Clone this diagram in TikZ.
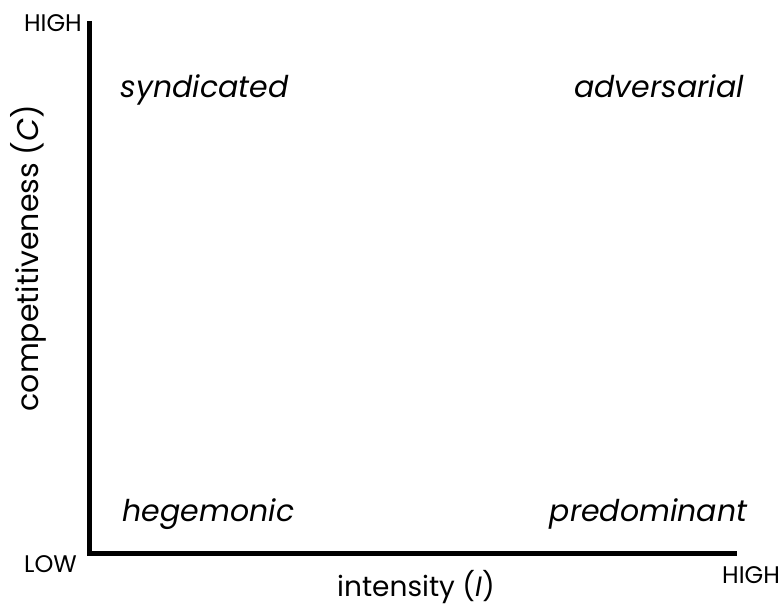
\documentclass[tikz,border=0pt]{standalone}
\usepackage{fontspec}
\setmainfont{Poppins}
\usepackage{tikz}
\tikzset{
    quadrant/.style={font=\fontsize{30}{36}\selectfont\itshape, anchor=base},
    axislabel/.style={font=\fontsize{28}{34}\selectfont},
    endlabel/.style={font=\fontsize{24}{29}\selectfont, inner sep=0pt}
}

\begin{document}
\begin{tikzpicture}[x=1pt,y=-1pt]
        \useasboundingbox (0,0) rectangle (783,610);

        \coordinate (top) at (89.5,21);
        \coordinate (origin) at (89.5,553);
        \coordinate (right) at (737,553);
        \draw[line width=5pt] (top) -- (origin) -- (right);

        \node[endlabel,anchor=base east] (highc) at (82,31) {HIGH};
        \node[endlabel,anchor=base east] (low) at (77,572) {LOW};
        \node[endlabel,anchor=base west] (highi) at (722,583) {HIGH};

        \node[axislabel,anchor=base] (intensity) at (416,596) {intensity (\textit{I})};
        \node[axislabel,font=\fontsize{30}{36}\selectfont,rotate=90] (compet) at (28,258) {competitiveness (\textit{C})};

        \node[quadrant] (syndicated) at (204.5,97) {syndicated};
        \node[quadrant] (adversarial) at (659,97) {adversarial};
        \node[quadrant] (hegemonic) at (208.5,521) {hegemonic};
        \node[quadrant] (predominant) at (648.5,521) {predominant};
    \end{tikzpicture}
\end{document}
